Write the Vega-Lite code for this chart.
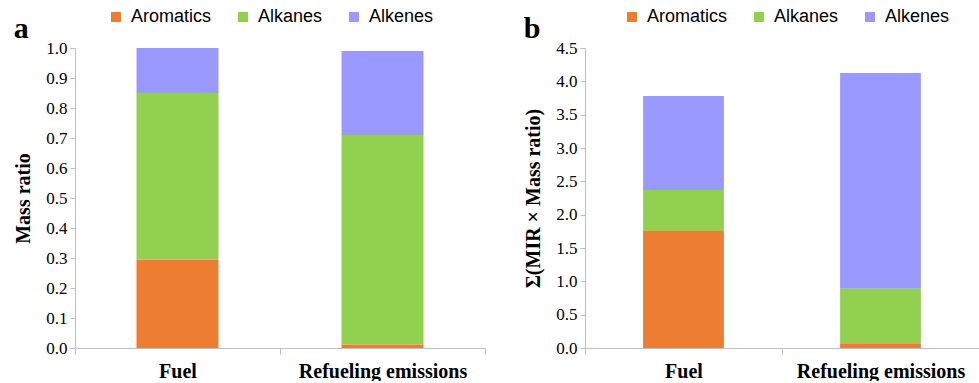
{
  "$schema": "https://vega.github.io/schema/vega-lite/v6.json",
  "padding": {"left": 13, "top": 8, "right": 0, "bottom": 0},
  "background": "white",
  "config": {
    "view": {"stroke": null},
    "font": "Liberation Serif",
    "axis": {
      "domainColor": "#BFBFBF",
      "tickColor": "#BFBFBF",
      "tickSize": 5,
      "grid": false,
      "labelFont": "Liberation Serif",
      "labelColor": "#000000",
      "titleFont": "Liberation Serif",
      "titleColor": "#000000",
      "titleFontWeight": "bold",
      "titleFontSize": 20
    },
    "legend": {
      "labelFont": "Liberation Sans",
      "labelFontSize": 18,
      "labelColor": "#000000",
      "symbolType": "square",
      "symbolSize": 100,
      "symbolStrokeWidth": 0,
      "labelOffset": 6,
      "columnPadding": 22,
      "direction": "horizontal",
      "orient": "none",
      "title": null
    },
    "title": {"font": "Liberation Serif", "fontSize": 30, "fontWeight": "bold", "anchor": "start", "color": "#000000"}
  },
  "data": {
    "values": [
      {"panel": "a", "cat": "Fuel", "comp": "Aromatics", "k": 1, "v": 0.295},
      {"panel": "a", "cat": "Fuel", "comp": "Alkanes", "k": 2, "v": 0.555},
      {"panel": "a", "cat": "Fuel", "comp": "Alkenes", "k": 3, "v": 0.15},
      {"panel": "a", "cat": "Refueling emissions", "comp": "Aromatics", "k": 1, "v": 0.012},
      {"panel": "a", "cat": "Refueling emissions", "comp": "Alkanes", "k": 2, "v": 0.698},
      {"panel": "a", "cat": "Refueling emissions", "comp": "Alkenes", "k": 3, "v": 0.28},
      {"panel": "b", "cat": "Fuel", "comp": "Aromatics", "k": 1, "v": 1.755},
      {"panel": "b", "cat": "Fuel", "comp": "Alkanes", "k": 2, "v": 0.615},
      {"panel": "b", "cat": "Fuel", "comp": "Alkenes", "k": 3, "v": 1.41},
      {"panel": "b", "cat": "Refueling emissions", "comp": "Aromatics", "k": 1, "v": 0.07},
      {"panel": "b", "cat": "Refueling emissions", "comp": "Alkanes", "k": 2, "v": 0.82},
      {"panel": "b", "cat": "Refueling emissions", "comp": "Alkenes", "k": 3, "v": 3.235}
    ]
  },
  "spacing": 37,
  "resolve": {"scale": {"color": "independent"}, "legend": {"color": "independent"}},
  "hconcat": [
    {
      "width": 410,
      "height": 300,
      "title": {"text": "a", "frame": "bounds", "offset": 4, "dy": 40},
      "transform": [{"filter": "datum.panel == 'a'"}],
      "mark": {"type": "bar", "width": {"band": 0.4}},
      "encoding": {
        "x": {
          "field": "cat", "type": "nominal", "sort": ["Fuel", "Refueling emissions"],
          "scale": {"paddingInner": 0, "paddingOuter": 0},
          "axis": {"title": null, "labelAngle": 0, "tickBand": "extent", "labelFont": "Liberation Serif", "labelFontSize": 20, "labelFontWeight": "bold", "labelPadding": 7, "tickSize": 6}
        },
        "y": {
          "field": "v", "type": "quantitative", "stack": "zero",
          "scale": {"domain": [0, 1], "nice": false},
          "axis": {"title": "Mass ratio", "values": [0, 0.1, 0.2, 0.3, 0.4, 0.5, 0.6, 0.7, 0.8, 0.9, 1.0], "format": ".1f", "labelFont": "Liberation Serif", "labelFontSize": 17, "labelPadding": 3, "titlePadding": 12}
        },
        "color": {
          "field": "comp", "type": "nominal",
          "scale": {"domain": ["Aromatics", "Alkanes", "Alkenes"], "range": ["#ED7D31", "#92D050", "#9999FF"]},
          "legend": {"legendX": 32, "legendY": -40}
        },
        "order": {"field": "k", "type": "quantitative"}
      }
    },
    {
      "width": 394,
      "height": 300,
      "title": {"text": "b", "frame": "bounds", "offset": 4, "dy": 40},
      "transform": [{"filter": "datum.panel == 'b'"}],
      "mark": {"type": "bar", "width": {"band": 0.41}},
      "encoding": {
        "x": {
          "field": "cat", "type": "nominal", "sort": ["Fuel", "Refueling emissions"],
          "scale": {"paddingInner": 0, "paddingOuter": 0},
          "axis": {"title": null, "labelAngle": 0, "tickBand": "extent", "labelFont": "Liberation Serif", "labelFontSize": 20, "labelFontWeight": "bold", "labelPadding": 7, "tickSize": 6}
        },
        "y": {
          "field": "v", "type": "quantitative", "stack": "zero",
          "scale": {"domain": [0, 4.5], "nice": false},
          "axis": {"title": "Σ(MIR × Mass ratio)", "values": [0, 0.5, 1.0, 1.5, 2.0, 2.5, 3.0, 3.5, 4.0, 4.5], "format": ".1f", "labelFont": "Liberation Serif", "labelFontSize": 17, "labelPadding": 3, "titlePadding": 12}
        },
        "color": {
          "field": "comp", "type": "nominal",
          "scale": {"domain": ["Aromatics", "Alkanes", "Alkenes"], "range": ["#ED7D31", "#92D050", "#9999FF"]},
          "legend": {"legendX": 38, "legendY": -40}
        },
        "order": {"field": "k", "type": "quantitative"}
      }
    }
  ]
}
